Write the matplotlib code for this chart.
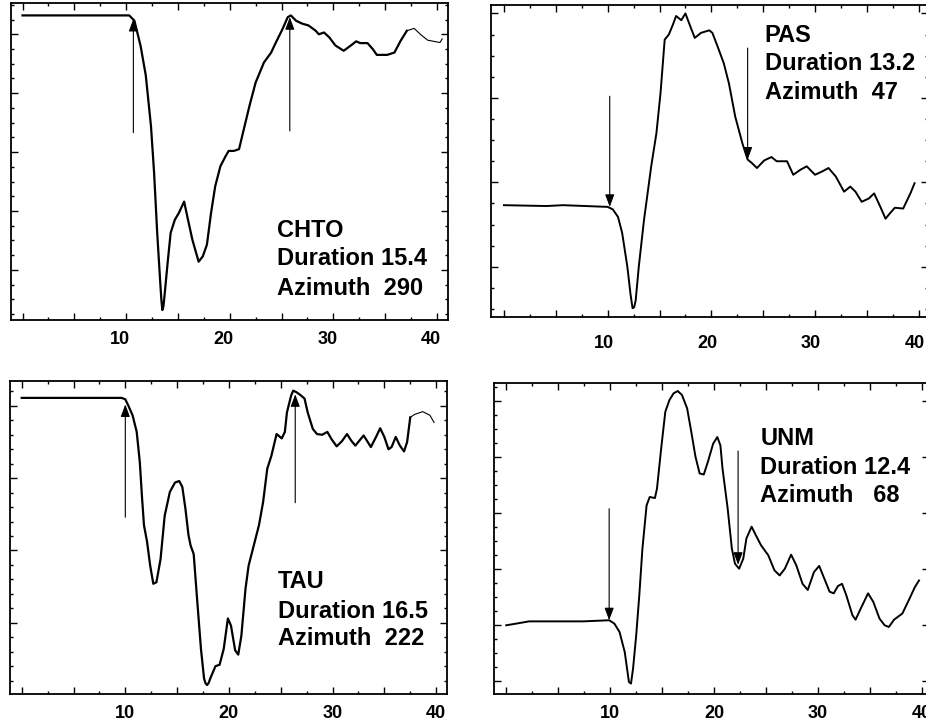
import numpy as np
import matplotlib
matplotlib.use("Agg")
import matplotlib.pyplot as plt
from matplotlib.ticker import MultipleLocator, FuncFormatter
from matplotlib.transforms import ScaledTranslation

plt.rcParams["font.family"] = ["Liberation Sans", "DejaVu Sans"]

# Station labels printed on each panel
stations = ["CHTO", "PAS", "TAU", "UNM"]
durations = ["15.4", "13.2", "16.5", "12.4"]
azimuths = ["290", "47", "222", "68"]
az_gap = ["  ", "  ", "  ", "   "]

# Traces. Time in seconds, amplitude in tick units.
chto_t = [0, 10.3, 10.8, 11.4, 11.9, 12.4, 12.7, 13.0, 13.3, 13.4, 13.5, 13.6, 13.7, 14.0, 14.3,
          14.7, 15.1, 15.6, 15.9, 16.4, 17.0, 17.4, 17.8, 18.2, 18.6, 19.1, 19.6, 19.9, 20.4, 20.9,
          21.2, 21.9, 22.5, 23.3, 24.0, 24.4, 25.1, 25.6, 25.9, 26.4, 27.0, 27.6, 28.3, 28.6, 29.1,
          29.6, 30.2, 31.0, 31.7, 32.2, 32.6, 33.3, 33.8, 34.2, 35.2, 35.9, 36.5, 37.1, 37.8, 38.4,
          39.1, 39.7, 40.3, 40.5]
chto_a = [4.32, 4.32, 4.23, 3.80, 3.30, 2.44, 1.65, 0.63, -0.23, -0.50, -0.68, -0.62, -0.45, 0.11, 0.63,
          0.85, 0.97, 1.16, 0.91, 0.51, 0.14, 0.23, 0.43, 0.97, 1.42, 1.76, 1.93, 2.02, 2.02, 2.05,
          2.27, 2.78, 3.18, 3.52, 3.69, 3.84, 4.09, 4.29, 4.32, 4.23, 4.18, 4.15, 4.06, 4.00, 4.03,
          3.95, 3.81, 3.72, 3.81, 3.88, 3.85, 3.85, 3.75, 3.65, 3.65, 3.69, 3.89, 4.06, 4.10, 4.00,
          3.90, 3.88, 3.86, 3.92]

pas_t = [0, 4.1, 5.7, 10.0, 10.5, 11.0, 11.4, 11.9, 12.2, 12.4, 12.55, 12.7, 13.0, 13.5, 14.2, 14.7,
         15.1, 15.5, 15.9, 16.3, 16.6, 17.1, 17.5, 17.9, 18.4, 19.0, 19.8, 20.1, 20.6, 21.2, 21.7,
         22.3, 23.0, 23.5, 23.9, 24.4, 25.1, 25.8, 26.3, 27.3, 27.9, 28.6, 29.2, 30.0, 30.7, 31.3,
         32.0, 32.8, 33.4, 33.9, 34.5, 35.2, 35.7, 36.3, 36.8, 37.2, 37.7, 38.5, 39.2, 39.6]
pas_a = [0.73, 0.72, 0.73, 0.71, 0.68, 0.59, 0.40, 0.00, -0.32, -0.49, -0.48, -0.40, 0.00, 0.55, 1.19, 1.58,
         2.06, 2.69, 2.75, 2.87, 2.97, 2.92, 3.00, 2.87, 2.71, 2.77, 2.80, 2.77, 2.61, 2.41, 2.17,
         1.78, 1.46, 1.27, 1.23, 1.17, 1.26, 1.30, 1.25, 1.25, 1.09, 1.15, 1.19, 1.09, 1.13, 1.17,
         1.07, 0.89, 0.95, 0.89, 0.77, 0.81, 0.87, 0.71, 0.57, 0.63, 0.70, 0.69, 0.87, 0.99]

tau_t = [0, 9.65, 10.0, 10.3, 10.7, 11.1, 11.4, 11.6, 11.8, 12.1, 12.4, 12.7, 13.0, 13.4, 13.8,
         14.3, 14.8, 15.2, 15.5, 15.8, 16.1, 16.3, 16.6, 16.9, 17.3, 17.6, 17.75, 17.9, 18.05, 18.2,
         18.7, 19.1, 19.5, 19.9, 20.2, 20.6, 20.9, 21.2, 21.6, 21.9, 22.4, 22.9, 23.3, 23.7, 24.1,
         24.6, 25.1, 25.4, 25.6, 26.0, 26.2, 26.5, 26.9, 27.3, 27.6, 28.1, 28.5, 29.0, 29.5, 29.9,
         30.4, 30.9, 31.4, 31.8, 32.2, 32.6, 33.0, 33.4, 33.7, 34.2, 34.6, 35.0, 35.4, 35.7, 36.1,
         36.5, 36.9, 37.2, 37.5, 37.9, 38.7, 39.4, 39.8]
tau_a = [3.11, 3.11, 3.09, 3.00, 2.87, 2.64, 2.22, 1.76, 1.35, 1.12, 0.79, 0.54, 0.56, 0.88, 1.48,
         1.81, 1.94, 1.96, 1.88, 1.58, 1.21, 1.07, 0.95, 0.38, -0.36, -0.77, -0.84, -0.86, -0.83, -0.77,
         -0.60, -0.58, -0.36, 0.06, -0.04, -0.38, -0.44, -0.18, 0.47, 0.79, 1.07, 1.35, 1.67, 2.13, 2.31,
         2.61, 2.55, 2.64, 2.91, 3.14, 3.21, 3.19, 3.15, 3.10, 2.91, 2.68, 2.61, 2.60, 2.64, 2.54,
         2.44, 2.51, 2.61, 2.52, 2.45, 2.52, 2.59, 2.50, 2.43, 2.57, 2.69, 2.57, 2.40, 2.43, 2.57,
         2.45, 2.37, 2.50, 2.84, 2.88, 2.92, 2.87, 2.77]

unm_t = [0, 0.96, 2.2, 4.8, 7.4, 9.9, 10.4, 10.9, 11.4, 11.8, 12.0, 12.2, 12.5, 12.8, 13.1,
         13.5, 13.8, 14.3, 14.5, 14.9, 15.3, 15.7, 16.1, 16.5, 16.9, 17.4, 17.8, 18.2, 18.6, 19.0,
         19.4, 19.9, 20.3, 20.6, 20.8, 21.3, 21.7, 22.0, 22.4, 22.8, 23.1, 23.6, 24.0, 24.5, 25.2,
         25.8, 26.3, 26.8, 27.4, 27.9, 28.5, 29.0, 29.6, 30.1, 30.6, 31.1, 31.5, 31.9, 32.3, 32.7,
         33.3, 33.6, 34.1, 34.8, 35.3, 35.9, 36.4, 36.8, 37.3, 38.1, 38.8, 39.3, 39.7]
unm_a = [0.00, 0.03, 0.07, 0.07, 0.07, 0.09, 0.03, -0.12, -0.48, -1.01, -1.04, -0.77, -0.18, 0.54, 1.37,
         2.14, 2.29, 2.27, 2.44, 3.15, 3.81, 4.02, 4.14, 4.18, 4.11, 3.87, 3.45, 3.01, 2.71, 2.69,
         2.92, 3.24, 3.36, 3.21, 2.80, 2.08, 1.37, 1.10, 1.01, 1.19, 1.55, 1.76, 1.61, 1.43, 1.25,
         0.98, 0.89, 1.01, 1.26, 1.07, 0.74, 0.63, 0.95, 1.06, 0.83, 0.60, 0.57, 0.70, 0.74, 0.54,
         0.18, 0.10, 0.30, 0.57, 0.42, 0.12, 0.00, -0.03, 0.10, 0.21, 0.48, 0.68, 0.80]

# Picks drawn as arrows: (time, tail amplitude, head amplitude)
chto_picks = [(10.7, 2.33, 4.26), (25.8, 2.36, 4.29)]
pas_picks = [(10.2, 2.02, 0.71), (23.5, 2.59, 1.27)]
tau_picks = [(10.0, 1.46, 3.02), (26.4, 1.66, 3.16)]
unm_picks = [(9.9, 2.08, 0.09), (22.3, 3.11, 1.08)]

traces = [(chto_t, chto_a), (pas_t, pas_a), (tau_t, tau_a), (unm_t, unm_a)]
picks = [chto_picks, pas_picks, tau_picks, unm_picks]

# Panel layout (figure fractions), axis limits and small styling bits
rects = [[0.0119, 0.558, 0.4719, 0.4378],
         [0.5306, 0.5626, 0.4716, 0.4305],
         [0.0108, 0.0419, 0.4716, 0.4315],
         [0.5331, 0.0419, 0.4700, 0.4296]]
xlims = [(-1.11, 41.07), (-1.22, 40.9), (-1.13, 41.02), (-1.21, 40.65)]
ylims = [(-0.85, 4.53), (-0.59, 3.10), (-0.98, 3.34), (-1.22, 4.33)]
y_minor = [0.25, 0.25, 0.2, 0.25]
label_pad = [8.0, 13.5, 8.0, 8.0]
label_shift = [-6, -4, 0, 0]          # px, the scanned labels sit a bit left of the ticks
thin_from = [37.0, None, 37.4, None]  # tail of the trace is drawn with a thinner pen
text_x = [0.609, 0.626, 0.614, 0.613]
text_y = [(0.262, 0.1735, 0.079), (0.882, 0.791, 0.70), (0.338, 0.242, 0.155), (0.799, 0.707, 0.617)]


def draw_panel(ax, i):

    t, a = np.array(traces[i][0]), np.array(traces[i][1])

    if thin_from[i] is None:
        ax.plot(t, a, color="black", lw=1.4, solid_joinstyle="round")
    else:
        k = np.searchsorted(t, thin_from[i])
        ax.plot(t[:k + 1], a[:k + 1], color="black", lw=1.6, solid_joinstyle="round")
        ax.plot(t[k:], a[k:], color="black", lw=0.8, solid_joinstyle="round")

    for time, tail, head in picks[i]:
        ax.annotate("", xy=(time, head), xytext=(time, tail),
                    arrowprops=dict(arrowstyle="-|>,head_length=0.75,head_width=0.28",
                                    lw=0.8, color="black", shrinkA=0, shrinkB=0))

    lines = [stations[i],
             "Duration {}".format(durations[i]),
             "Azimuth{}{}".format(az_gap[i], azimuths[i])]
    for line, y in zip(lines, text_y[i]):
        ax.text(text_x[i], y, line, transform=ax.transAxes, fontsize=17,
                fontweight="bold", va="baseline", ha="left")

    ax.set_xlim(*xlims[i])
    ax.set_ylim(*ylims[i])

    ax.xaxis.set_major_locator(MultipleLocator(5))
    ax.xaxis.set_minor_locator(MultipleLocator(2.5))
    ax.xaxis.set_major_formatter(FuncFormatter(
        lambda v, pos: "{:d}".format(int(round(v))) if v > 1 and abs(v % 10) < 1e-6 else ""))
    ax.yaxis.set_major_locator(MultipleLocator(1))
    ax.yaxis.set_minor_locator(MultipleLocator(y_minor[i]))

    ax.tick_params(which="both", direction="in", top=True, right=True,
                   labelleft=False, width=1.0)
    ax.tick_params(which="major", length=5)
    ax.tick_params(which="minor", length=2.5)
    ax.tick_params(axis="x", which="major", pad=label_pad[i], labelsize=13)

    for label in ax.get_xticklabels():
        label.set_fontweight("bold")
        shift = ScaledTranslation(label_shift[i] / 100.0, 0, ax.figure.dpi_scale_trans)
        label.set_transform(label.get_transform() + shift)

    for spine in ax.spines.values():
        spine.set_linewidth(1.3)


if __name__ == "__main__":

    fig = plt.figure(figsize=(9.26, 7.24), dpi=100)

    for i in range(4):

        ax = fig.add_axes(rects[i])
        draw_panel(ax, i)

    fig.savefig("out.png", dpi=100)
